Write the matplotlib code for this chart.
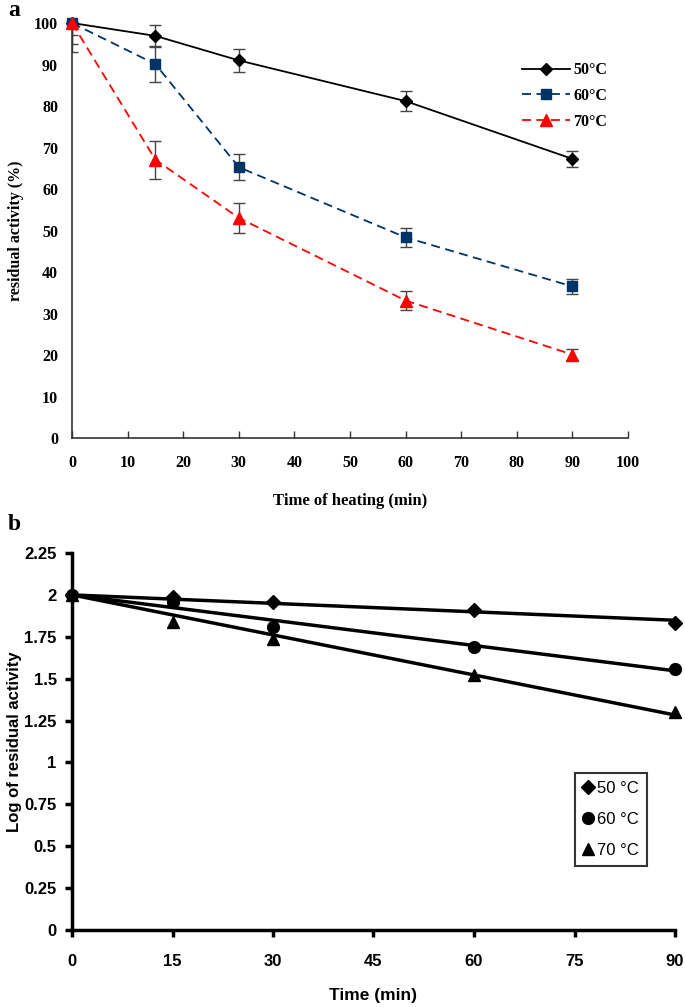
import matplotlib.pyplot as plt
import numpy as np

# panel a: residual activity (%) vs heating time
time_a = [0, 15, 30, 60, 90]
act_50 = [100, 96.9, 91.0, 81.2, 67.3]
act_60 = [100, 90.1, 65.3, 48.4, 36.6]
act_70 = [100, 67.1, 53.1, 33.2, 20.2]
err_50 = [3, 2.7, 2.7, 2.4, 2.0]
err_60 = [5, 4.4, 3.2, 2.2, 1.8]
err_70 = [7, 4.6, 3.6, 2.3, 1.3]
labels_a = ['50°C', '60°C', '70°C']

# panel b: log of residual activity
time_b = [0, 15, 30, 60, 90]
log_50 = [2.0, 1.99, 1.96, 1.91, 1.835]
log_60 = [2.0, 1.955, 1.81, 1.69, 1.56]
log_70 = [2.0, 1.84, 1.735, 1.52, 1.30]
labels_b = ['50 °C', '60 °C', '70 °C']

serif = 'Liberation Serif'
sans = 'Liberation Sans'

fig = plt.figure(figsize=(6.85, 10.07), dpi=100)

# ---------- a ----------
ax = fig.add_axes([72/685, 1-438.5/1007, 556/685, 415.5/1007])
styles = [('black', '-', 'D', 6.5), ('#003366', '--', 's', 6.5), ('#ff0000', '--', '^', 8.5)]
for vals, errs, lab, (c, ls, m, ms) in zip([act_50, act_60, act_70], [err_50, err_60, err_70], labels_a, styles):
    ax.errorbar(time_a, vals, yerr=errs, fmt='none', ecolor='#444444', elinewidth=1, capsize=4, capthick=1, zorder=2)
    kw = dict(dashes=(5, 3)) if ls == '--' else {}
    ax.plot(time_a, vals, color=c, ls=ls, lw=1.3, marker=m, ms=ms, mfc=c, mec=c, label=lab,
            clip_on=False, zorder=3, **kw)
ax.set_xlim(0, 100)
ax.set_ylim(0, 100)
ax.set_xticks(range(0, 101, 10))
ax.set_yticks(range(0, 101, 10))
ax.spines['top'].set_visible(False)
ax.spines['right'].set_visible(False)
for s in ['left', 'bottom']:
    ax.spines[s].set_color('#333333')
    ax.spines[s].set_linewidth(1.2)
ax.tick_params(axis='x', direction='in', length=5, width=1, color='#333333', pad=12)
ax.tick_params(axis='y', length=0, pad=10)
for t in ax.get_xticklabels() + ax.get_yticklabels():
    t.set_fontfamily(serif)
    t.set_fontweight('bold')
    t.set_fontsize(11.5)
ax.set_xlabel('Time of heating (min)', fontfamily=serif, fontweight='bold', fontsize=12, labelpad=16)
ax.set_ylabel('residual activity (%)', fontfamily=serif, fontweight='bold', fontsize=11.5, labelpad=7)
leg = ax.legend(loc='upper left', bbox_to_anchor=(0.795, 0.925), frameon=False, handlelength=3.0,
                handletextpad=0.2, labelspacing=0.62, borderpad=0, prop={'family': serif, 'weight': 'bold', 'size': 11.5})
fig.text(8/685, 1-10/1007, 'a', fontfamily=serif, fontweight='bold', fontsize=17, va='center', ha='left')

# ---------- b ----------
bx = fig.add_axes([72/685, 1-930/1007, 603/685, 377/1007])
tb = np.array(time_b, dtype=float)
for vals, lab, m, ms in zip([log_50, log_60, log_70], labels_b, ['D', 'o', '^'], [7, 8.5, 9]):
    v = np.array(vals)
    # trendline forced through the value at t=0
    k = np.sum(tb * (v - v[0])) / np.sum(tb ** 2)
    bx.plot([tb[0], tb[-1]], [v[0], v[0] + k * tb[-1]], color='black', lw=2.5, zorder=2)
    bx.plot(tb, v, ls='none', marker=m, ms=ms, color='black', label=lab, clip_on=False, zorder=3)
bx.set_xlim(0, 90)
bx.set_ylim(0, 2.25)
bx.set_xticks(range(0, 91, 15))
bx.set_yticks(np.arange(0, 2.26, 0.25))
bx.set_yticklabels(['0', '0.25', '0.5', '0.75', '1', '1.25', '1.5', '1.75', '2', '2.25'])
bx.spines['top'].set_visible(False)
bx.spines['right'].set_visible(False)
for s in ['left', 'bottom']:
    bx.spines[s].set_linewidth(2.5)
bx.tick_params(direction='out', length=5, width=2.5, pad=6)
bx.tick_params(axis='x', pad=12)
for t in bx.get_xticklabels() + bx.get_yticklabels():
    t.set_fontfamily(sans)
    t.set_fontweight('bold')
    t.set_fontsize(12)
bx.set_xlabel('Time (min)', fontfamily=sans, fontweight='bold', fontsize=12.5, labelpad=14)
bx.set_ylabel('Log of residual activity', fontfamily=sans, fontweight='bold', fontsize=12)
bx.yaxis.set_label_coords(-50/603, 0.5)
lb = bx.legend(loc='upper left', bbox_to_anchor=(503/603, 1-(772.7-553)/377), frameon=True, fancybox=False,
               handlelength=0.6, handletextpad=0.2, labelspacing=0.95, borderpad=0.5, borderaxespad=0,
               prop={'family': sans, 'size': 12})
lb.get_frame().set_edgecolor('black')
lb.get_frame().set_linewidth(1.5)
fig.text(8/685, 1-524/1007, 'b', fontfamily=serif, fontweight='bold', fontsize=17, va='center', ha='left')

fig.savefig('out.png', dpi=100)
